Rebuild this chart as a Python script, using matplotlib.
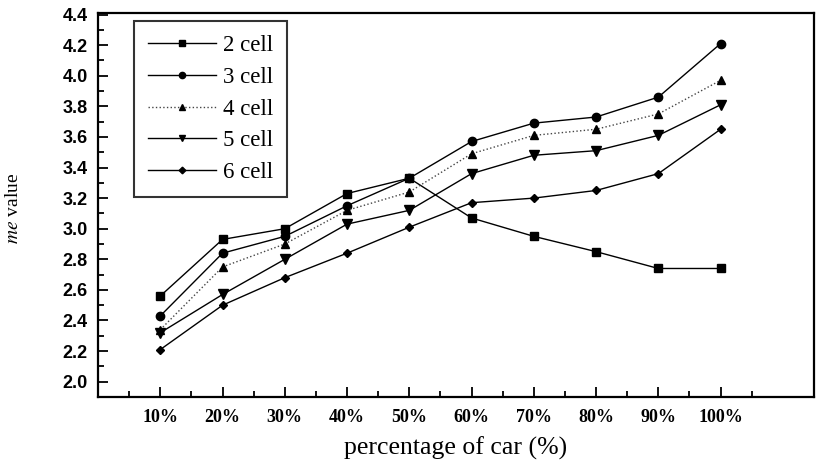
import matplotlib
matplotlib.use("Agg")
import matplotlib.pyplot as plt
from matplotlib.ticker import MultipleLocator, FixedLocator

categories = ["10%", "20%", "30%", "40%", "50%", "60%", "70%", "80%", "90%", "100%"]
cell2 = [2.56, 2.93, 3.00, 3.23, 3.33, 3.07, 2.95, 2.85, 2.74, 2.74]
cell3 = [2.43, 2.84, 2.95, 3.15, 3.33, 3.57, 3.69, 3.73, 3.86, 4.21]
cell4 = [2.34, 2.75, 2.90, 3.12, 3.24, 3.49, 3.61, 3.65, 3.75, 3.97]
cell5 = [2.32, 2.57, 2.80, 3.03, 3.12, 3.36, 3.48, 3.51, 3.61, 3.81]
cell6 = [2.21, 2.50, 2.68, 2.84, 3.01, 3.17, 3.20, 3.25, 3.36, 3.65]
series_names = ["2 cell", "3 cell", "4 cell", "5 cell", "6 cell"]
y_ticks = [2.0, 2.2, 2.4, 2.6, 2.8, 3.0, 3.2, 3.4, 3.6, 3.8, 4.0, 4.2, 4.4]

fig = plt.figure(figsize=(8.19, 4.62), dpi=100)
ax = fig.add_axes([0.1197, 0.1407, 0.8742, 0.8312])

x = list(range(1, len(categories) + 1))
styles = [
    dict(marker="s", color="black", ls="-", lw=1.0, ms=6),
    dict(marker="o", color="black", ls="-", lw=1.0, ms=6),
    dict(marker="^", color="#444444", ls=":", lw=1.0, ms=6, mfc="black", mec="black"),
    dict(marker="v", color="black", ls="-", lw=1.0, ms=6.5),
    dict(marker="D", color="black", ls="-", lw=1.0, ms=4.5),
]
for vals, name, st in zip([cell2, cell3, cell4, cell5, cell6], series_names, styles):
    ax.plot(x, vals, label=name, **st)

ax.set_xlim(0, 11.5)
ax.set_ylim(1.9, 4.41)
ax.xaxis.set_major_locator(FixedLocator(x))
ax.xaxis.set_minor_locator(FixedLocator([i + 0.5 for i in range(0, 11)]))
ax.set_xticklabels(categories, family="Liberation Serif", fontweight="bold", fontsize=13)
ax.set_yticks(y_ticks)
ax.set_yticklabels([f"{v:.1f}" for v in y_ticks], family="Liberation Sans",
                   fontweight="bold", fontsize=13)
ax.yaxis.set_minor_locator(MultipleLocator(0.1))
ax.tick_params(which="both", direction="in", top=False, right=False, width=1.3)
ax.tick_params(which="major", length=7)
ax.tick_params(which="minor", length=4)
ax.tick_params(axis="x", pad=8.5)
ax.tick_params(axis="y", pad=7.5)
for sp in ax.spines.values():
    sp.set_linewidth(1.6)

ax.set_xlabel("percentage of car (%)", family="Liberation Serif", fontsize=18.5, labelpad=8)
ax.set_ylabel(r"$\mathit{me}$ value", family="Liberation Serif", fontsize=14)
ax.yaxis.label.set_math_fontfamily("stix")
ax.yaxis.set_label_coords(-0.106, 0.49)

leg = ax.legend(loc="upper left", bbox_to_anchor=(0.050, 0.980), borderaxespad=0,
                prop={"family": "Liberation Serif", "size": 16.5}, fancybox=False,
                frameon=True, handlelength=2.95, handletextpad=0.3, labelspacing=0.47,
                borderpad=0.62, markerscale=0.75)
leg.get_frame().set_edgecolor("black")
leg.get_frame().set_linewidth(1.5)

fig.savefig("out.png", dpi=100)
